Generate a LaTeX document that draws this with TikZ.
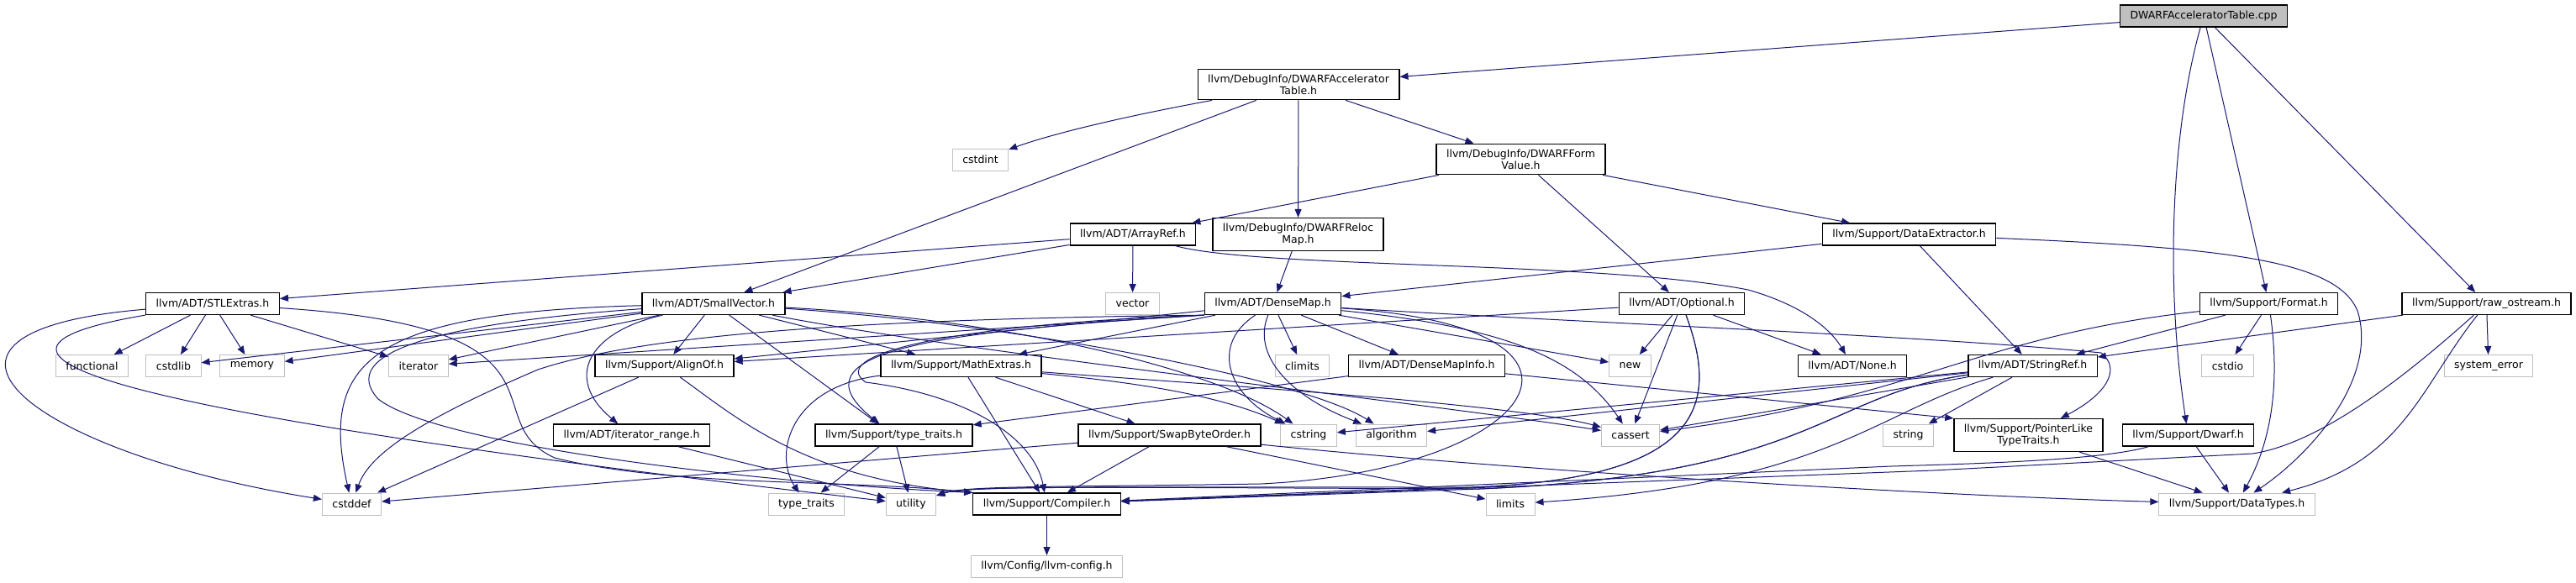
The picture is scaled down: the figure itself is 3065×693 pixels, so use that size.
\documentclass[tikz,border=0pt]{standalone}
\usepackage{fontspec}
\setmainfont{DejaVu Sans}
\usetikzlibrary{arrows.meta}
\definecolor{edgeblue}{HTML}{191970}
\definecolor{extgray}{HTML}{BFBFBF}

\begin{document}
\begin{tikzpicture}[x=0.5pt, y=-0.5pt, font=\fontsize{6.25}{7}\selectfont,
  hdr/.style={draw=black, line width=0.65pt, fill=white, align=center,
              inner xsep=6pt, inner ysep=3.2pt, minimum height=13pt},
  sys/.style={hdr, draw=extgray, line width=0.5pt},
  src/.style={hdr, fill=extgray},
  inc/.style={-{Triangle[length=5pt,width=4pt]}, edgeblue, line width=0.5pt}]
\path[use as bounding box, fill=white] (0,0) rectangle (3065,693);
\node[src] (root) at (2622,19) {DWARFAcceleratorTable.cpp};
\node[hdr] (accel) at (1545,100.5) {llvm/DebugInfo/DWARFAccelerator\\Table.h};
\node[sys] (cstdint) at (1166.5,190) {cstdint};
\node[hdr] (formval) at (1809.5,189.5) {llvm/DebugInfo/DWARFForm\\Value.h};
\node[hdr] (arrayref) at (1348,279) {llvm/ADT/ArrayRef.h};
\node[hdr] (reloc) at (1544.5,279) {llvm/DebugInfo/DWARFReloc\\Map.h};
\node[hdr] (dataext) at (2271.5,279) {llvm/Support/DataExtractor.h};
\node[hdr] (stlx) at (253,361.5) {llvm/ADT/STLExtras.h};
\node[hdr] (smallvec) at (849,361.5) {llvm/ADT/SmallVector.h};
\node[sys] (vector) at (1347.5,361.5) {vector};
\node[hdr] (densemap) at (1514.5,361.5) {llvm/ADT/DenseMap.h};
\node[hdr] (optional) at (2001,361.5) {llvm/ADT/Optional.h};
\node[hdr] (format) at (2699.5,361.5) {llvm/Support/Format.h};
\node[hdr] (rawos) at (2958.5,361.5) {llvm/Support/raw\_ostream.h};
\node[sys] (functional) at (109.5,435.5) {functional};
\node[sys] (cstdlib) at (206.5,435.5) {cstdlib};
\node[sys] (memory) at (300,435.5) {memory};
\node[sys] (iterator) at (498,435.5) {iterator};
\node[hdr] (alignof) at (790.5,435.5) {llvm/Support/AlignOf.h};
\node[hdr] (mathx) at (1143.5,435.5) {llvm/Support/MathExtras.h};
\node[sys] (climits) at (1549.5,435.5) {climits};
\node[hdr] (dmapinfo) at (1697.5,435.5) {llvm/ADT/DenseMapInfo.h};
\node[sys] (new) at (1939.5,435.5) {new};
\node[hdr] (none) at (2204,435.5) {llvm/ADT/None.h};
\node[hdr] (strref) at (2418.5,435.5) {llvm/ADT/StringRef.h};
\node[sys] (cstdio) at (2650.5,435.5) {cstdio};
\node[sys] (syserr) at (2961,435.5) {system\_error};
\node[hdr] (itrange) at (751.5,518) {llvm/ADT/iterator\_range.h};
\node[hdr] (ttraitsh) at (1063.5,518) {llvm/Support/type\_traits.h};
\node[hdr] (swapbo) at (1391.5,518) {llvm/Support/SwapByteOrder.h};
\node[sys] (cstring) at (1557,518) {cstring};
\node[sys] (algorithm) at (1655.5,518) {algorithm};
\node[sys] (cassert) at (1940,518) {cassert};
\node[sys] (string) at (2270.5,518) {string};
\node[hdr] (ptrlike) at (2413.5,518) {llvm/Support/PointerLike\\TypeTraits.h};
\node[hdr] (dwarf) at (2603.5,518) {llvm/Support/Dwarf.h};
\node[sys] (cstddef) at (418.5,600) {cstddef};
\node[sys] (ttraits) at (959.5,600) {type\_traits};
\node[sys] (utility) at (1084,600) {utility};
\node[hdr] (compiler) at (1245.5,600) {llvm/Support/Compiler.h};
\node[sys] (limits) at (1797,600) {limits};
\node[sys] (datatypes) at (2661.5,600) {llvm/Support/DataTypes.h};
\node[sys] (config) at (1245.5,674.5) {llvm/Config/llvm-config.h};
% DWARFAcceleratorTable.cpp
\draw[inc] (root) -- (accel);
\draw[inc] (root) .. controls (2585,150) and (2575,330) .. (dwarf);
\draw[inc] (root) -- (format);
\draw[inc] (root) -- (rawos);
% DWARFAcceleratorTable.h
\draw[inc] (accel) .. controls (1330,140) and (1250,160) .. (cstdint);
\draw[inc] (accel) -- (smallvec);
\draw[inc] (accel) -- (reloc);
\draw[inc] (accel) -- (formval);
% DWARFFormValue.h, DWARFRelocMap.h
\draw[inc] (formval) -- (arrayref);
\draw[inc] (formval) -- (optional);
\draw[inc] (formval) -- (dataext);
\draw[inc] (reloc) -- (densemap);
% ArrayRef.h
\draw[inc] (arrayref) -- (stlx);
\draw[inc] (arrayref) -- (smallvec);
\draw[inc] (arrayref) -- (vector);
\draw[inc] (arrayref) .. controls (1500,320) and (1900,310) .. (2080,345)
  .. controls (2150,365) and (2180,395) .. (none);
% DataExtractor.h
\draw[inc] (dataext) -- (densemap);
\draw[inc] (dataext) -- (strref);
\draw[inc] (dataext) .. controls (2650,295) and (2780,310) .. (2805,370)
  .. controls (2830,450) and (2750,540) .. (datatypes);
% STLExtras.h
\draw[inc] (stlx) -- (functional);
\draw[inc] (stlx) -- (cstdlib);
\draw[inc] (stlx) -- (memory);
\draw[inc] (stlx) -- (iterator);
\draw[inc] (stlx) .. controls (-150,395) and (40,540) .. (cstddef);
\draw[inc] (stlx) .. controls (-150,430) and (300,510) .. (utility);
\draw[inc] (stlx) .. controls (700,390) and (560,500) .. (660,545)
  .. controls (800,580) and (1000,570) .. (compiler.north west);
% SmallVector.h
\draw[inc] (smallvec) -- (cstdlib);
\draw[inc] (smallvec) -- (memory);
\draw[inc] (smallvec) -- (iterator);
\draw[inc] (smallvec) .. controls (440,372) and (380,430) .. (cstddef);
\draw[inc] (smallvec) .. controls (700,395) and (670,450) .. (itrange);
\draw[inc] (smallvec) -- (alignof);
\draw[inc] (smallvec) -- (ttraitsh);
\draw[inc] (smallvec) -- (mathx);
\draw[inc] (smallvec) .. controls (520,385) and (400,420) .. (450,475)
  .. controls (520,530) and (900,575) .. (compiler.north west);
\draw[inc] (smallvec) .. controls (1200,380) and (1450,440) .. (cstring);
\draw[inc] (smallvec) .. controls (1200,385) and (1550,450) .. (algorithm);
\draw[inc] (smallvec) .. controls (1150,420) and (1700,480) .. (cassert);
% AlignOf.h, iterator_range.h
\draw[inc] (alignof) -- (cstddef);
\draw[inc] (alignof) .. controls (880,500) and (960,570) .. (compiler.north west);
\draw[inc] (itrange) -- (utility);
% MathExtras.h
\draw[inc] (mathx) .. controls (940,460) and (920,540) .. (ttraits);
\draw[inc] (mathx) -- (compiler);
\draw[inc] (mathx) -- (swapbo);
\draw[inc] (mathx) .. controls (1350,455) and (1450,470) .. (cstring);
\draw[inc] (mathx) .. controls (1400,455) and (1800,480) .. (cassert);
% type_traits.h
\draw[inc] (ttraitsh) -- (ttraits);
\draw[inc] (ttraitsh) -- (utility);
% SwapByteOrder.h
\draw[inc] (swapbo) -- (cstddef);
\draw[inc] (swapbo) -- (compiler);
\draw[inc] (swapbo) -- (limits);
\draw[inc] (swapbo) .. controls (1800,560) and (2300,590) .. (datatypes);
% DenseMap.h
\draw[inc] (densemap.south west) .. controls (1000,380) and (760,400) .. (640,440)
  .. controls (500,500) and (440,540) .. (cstddef);
\draw[inc] (densemap.south west) -- (iterator);
\draw[inc] (densemap) -- (alignof);
\draw[inc] (densemap) -- (mathx);
\draw[inc] (densemap.south west) .. controls (1100,395) and (940,420) .. (ttraitsh);
\draw[inc] (densemap.south west) .. controls (1150,385) and (980,420) .. (1030,455)
  .. controls (1150,470) and (1230,520) .. (compiler);
\draw[inc] (densemap) .. controls (1950,390) and (1830,560) .. (1500,576)
  .. controls (1250,580) and (1150,578) .. (utility);
\draw[inc] (densemap) .. controls (1440,410) and (1460,470) .. (cstring);
\draw[inc] (densemap) .. controls (1490,420) and (1530,470) .. (algorithm);
\draw[inc] (densemap) -- (climits);
\draw[inc] (densemap) -- (dmapinfo);
\draw[inc] (densemap) -- (new);
\draw[inc] (densemap) .. controls (1800,390) and (1880,430) .. (cassert);
\draw[inc] (densemap) .. controls (1900,385) and (2300,400) .. (2500,420)
  .. controls (2525,440) and (2505,470) .. (ptrlike);
% Optional.h
\draw[inc] (optional) -- (alignof);
\draw[inc] (optional) -- (new);
\draw[inc] (optional) -- (cassert);
\draw[inc] (optional) -- (none);
\draw[inc] (optional) .. controls (2045,480) and (2030,570) .. (1750,580) -- (compiler);
\draw[inc] (optional) .. controls (2045,480) and (2030,570) .. (1750,580)
  .. controls (1300,580) and (1150,578) .. (utility);
% DenseMapInfo.h
\draw[inc] (dmapinfo) -- (ttraitsh);
\draw[inc] (dmapinfo) -- (ptrlike.north west);
% StringRef.h
\draw[inc] (strref) -- (string);
\draw[inc] (strref) -- (cassert);
\draw[inc] (strref) -- (algorithm);
\draw[inc] (strref) -- (cstring);
\draw[inc] (strref) .. controls (2230,490) and (2180,575) .. (limits);
\draw[inc] (strref) .. controls (2170,470) and (2160,565) .. (1760,582) -- (compiler);
\draw[inc] (strref) .. controls (2170,470) and (2160,565) .. (1760,582)
  .. controls (1300,580) and (1150,578) .. (utility);
% Format.h, raw_ostream.h, Dwarf.h
\draw[inc] (format) -- (strref);
\draw[inc] (format) -- (cstdio);
\draw[inc] (format) .. controls (2712,450) and (2705,520) .. (datatypes);
\draw[inc] (format) .. controls (2350,400) and (2280,475) .. (cassert);
\draw[inc] (rawos) -- (strref);
\draw[inc] (rawos) -- (syserr);
\draw[inc] (rawos) .. controls (2880,460) and (2860,550) .. (datatypes);
\draw[inc] (rawos) .. controls (2860,450) and (2760,528) .. (2680,540)
  -- (2300,560) -- (compiler);
\draw[inc] (dwarf) -- (datatypes);
\draw[inc] (dwarf) .. controls (2500,548) and (2350,552) .. (2250,555) -- (compiler);
\draw[inc] (ptrlike) -- (datatypes);
\draw[inc] (compiler) -- (config);
\end{tikzpicture}
\end{document}
